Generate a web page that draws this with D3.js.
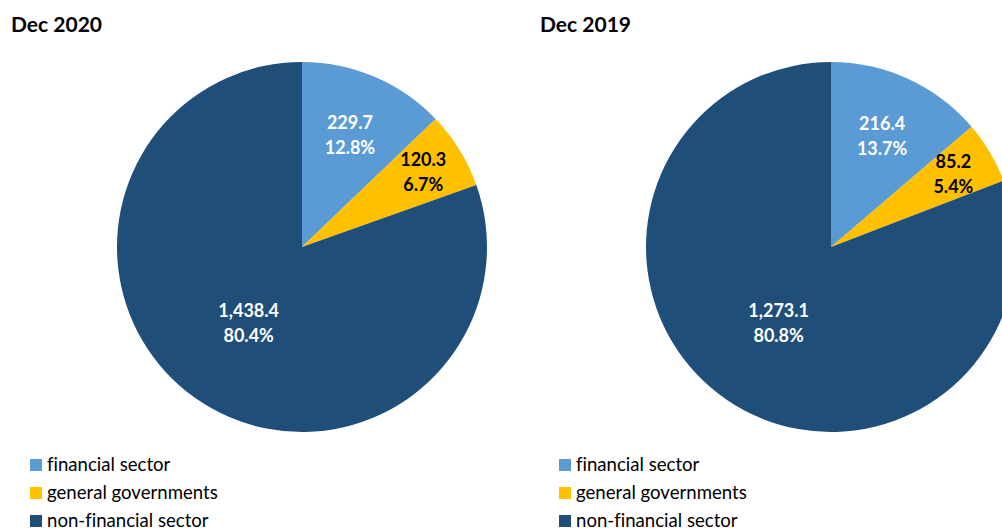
<!DOCTYPE html>
<html>
<head>
<meta charset="utf-8">
<script src="https://cdn.jsdelivr.net/npm/d3@7"></script>
<style>
  html, body { margin: 0; padding: 0; background: #fff; }
  svg { display: block; }
  text { font-family: Lato, "Open Sans", sans-serif; font-variant-ligatures: none; }
</style>
</head>
<body>
<svg id="chart" width="1002" height="531"></svg>
<script>
// Sectors and their values (bn) for each reporting date
const categories = ["financial sector", "general governments", "non-financial sector"];
const periods = ["Dec 2020", "Dec 2019"];
const valuesDec2020 = [229.7, 120.3, 1438.4];
const valuesDec2019 = [216.4, 85.2, 1273.1];
const sharesDec2020 = [12.8, 6.7, 80.4];
const sharesDec2019 = [13.7, 5.4, 80.8];

const colors = ["#5B9BD5", "#FFC000", "#1F4E79"];
const labelColors = ["#ffffff", "#000000", "#ffffff"];

const svg = d3.select("#chart");
const R = 185;

const color = d3.scaleOrdinal().domain(categories).range(colors);
const labelColor = d3.scaleOrdinal().domain(categories).range(labelColors);

const fmtValue = d3.format(",.1f");
const fmtShare = v => d3.format(".1f")(v) + "%";

const panels = [
  { title: periods[0], values: valuesDec2020, shares: sharesDec2020, x0: 0 },
  { title: periods[1], values: valuesDec2019, shares: sharesDec2019, x0: 529 }
];

const pie = d3.pie().sort(null).value(d => d.value);
const arc = d3.arc().innerRadius(0).outerRadius(R);

panels.forEach(p => {
  const g = svg.append("g").attr("transform", `translate(${p.x0},0)`);

  g.append("text")
    .attr("x", 11).attr("y", 32)
    .attr("font-size", 21).attr("font-weight", 700)
    .attr("fill", "#000")
    .text(p.title);

  const data = categories.map((c, i) => ({ cat: c, value: p.values[i], share: p.shares[i] }));
  const arcs = pie(data);
  const total = d3.sum(p.values);

  const pg = g.append("g").attr("transform", `translate(302,247)`);

  pg.selectAll("path")
    .data(arcs)
    .join("path")
    .attr("d", arc)
    .attr("fill", d => color(d.data.cat));

  // Label radius depends on slice size: large slices get labels nearer the centre
  const labelR = d => {
    const frac = d.data.value / total;
    return R * (frac > 0.5 ? 0.5 : frac > 0.1 ? 0.66 : 0.77);
  };

  const labels = pg.selectAll("g.lbl")
    .data(arcs)
    .join("g")
    .attr("class", "lbl")
    .attr("transform", d => {
      const r = labelR(d);
      const c = d3.arc().innerRadius(r).outerRadius(r).centroid(d);
      return `translate(${c[0]},${c[1]})`;
    });

  labels.append("text")
    .attr("text-anchor", "middle")
    .attr("y", -6)
    .attr("font-size", 18).attr("font-weight", 700)
    .attr("fill", d => labelColor(d.data.cat))
    .text(d => fmtValue(d.data.value));

  labels.append("text")
    .attr("text-anchor", "middle")
    .attr("y", 19)
    .attr("font-size", 18).attr("font-weight", 700)
    .attr("fill", d => labelColor(d.data.cat))
    .text(d => fmtShare(d.data.share));

  // Legend
  const lg = g.append("g").attr("transform", "translate(30,459)");
  const items = lg.selectAll("g")
    .data(categories)
    .join("g")
    .attr("transform", (d, i) => `translate(0,${i * 28})`);
  items.append("rect")
    .attr("width", 12).attr("height", 12)
    .attr("fill", d => color(d));
  items.append("text")
    .attr("x", 17).attr("y", 12)
    .attr("font-size", 18.6)
    .attr("fill", "#000")
    .text(d => d);
});
</script>
</body>
</html>
